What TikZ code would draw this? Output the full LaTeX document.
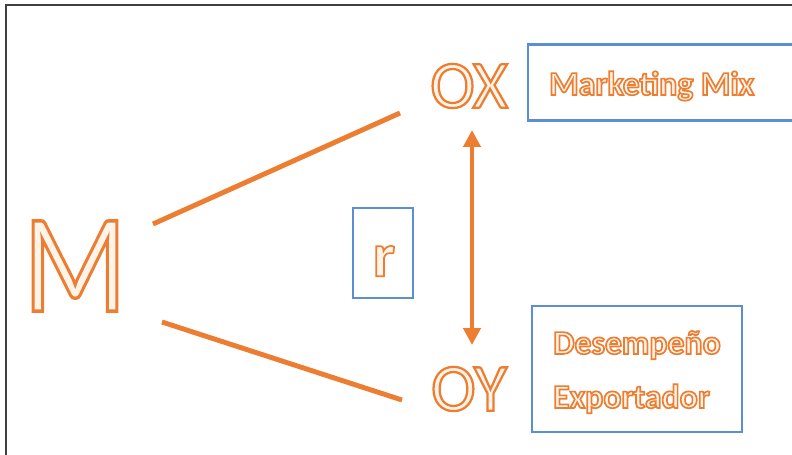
\documentclass[tikz,border=0pt]{standalone}
\usepackage{fontspec}
\setmainfont{Carlito}
\usetikzlibrary{arrows.meta}

\definecolor{orng}{RGB}{237,125,49}
\definecolor{bxblue}{RGB}{91,142,210}
\definecolor{peach}{RGB}{255,244,234}

% hollow letters: orange outline (text render mode 2), pale fill
\newcommand{\hollowtxt}[2][1.2]{%
  {\color{peach}\special{pdf:literal direct 0.929 0.490 0.192 RG #1 w 2 Tr}#2\special{pdf:literal direct 0 Tr}}}

\tikzset{
  hollow/.style={inner sep=0pt},
  link/.style={draw=orng, line width=3.5pt},
  infobox/.style={draw=bxblue, line width=2pt, inner sep=0pt},
  frame/.style={draw=black!75, line width=1.2pt}
}

\begin{document}
\begin{tikzpicture}[x=0.025cm,y=-0.025cm]
    \useasboundingbox (0,0) rectangle (792,455);
    \draw [frame] (6,455) -- (6,5) -- (792,5);

    % variables
    \node [hollow, font=\fontsize{100}{100}\selectfont] (M) at (75,266) {\scalebox{0.86}[1]{\hollowtxt[2.4]{M}}};
    \node [hollow, font=\fontsize{48}{48}\selectfont] (OX) at (469,86) {\hollowtxt[1.6]{OX}};
    \node [hollow, font=\fontsize{48}{48}\selectfont] (OY) at (469,389) {\hollowtxt[1.6]{OY}};

    % lines from M
    \coordinate (mx) at (153,224);
    \coordinate (xm) at (400,113);
    \coordinate (my) at (162,322);
    \coordinate (ym) at (402,400);
    \draw [link] (mx) -- (xm);
    \draw [link] (my) -- (ym);

    % relation r
    \coordinate (xa) at (472,130);
    \coordinate (ya) at (472,345);
    \draw [link, line width=3pt, {Triangle[width=0.42cm,length=0.42cm]}-{Triangle[width=0.42cm,length=0.42cm]}] (xa) -- (ya);
    \node [infobox, minimum width=1.5cm, minimum height=2.25cm] (rbox) at (383,253) {};
    \node [hollow, font=\bfseries\fontsize{44}{44}\selectfont] (r) at (384,261) {\hollowtxt{r}};

    % boxes on the right
    \node [infobox, minimum width=6.9cm, minimum height=1.9cm] (mmbox) at (666,82.5) {};
    \node [hollow, anchor=base west, font=\bfseries\fontsize{24}{24}\selectfont] (mm) at (549,95) {\hollowtxt{Marketing Mix}};
    \node [infobox, minimum width=5.25cm, minimum height=3.15cm] (debox) at (637,369) {};
    \node [hollow, anchor=base west, font=\bfseries\fontsize{24}{24}\selectfont] (de) at (553,354) {\hollowtxt{Desempeño}};
    \node [hollow, anchor=base west, font=\bfseries\fontsize{24}{24}\selectfont] (ex) at (553,408) {\hollowtxt{Exportador}};
\end{tikzpicture}
\end{document}
